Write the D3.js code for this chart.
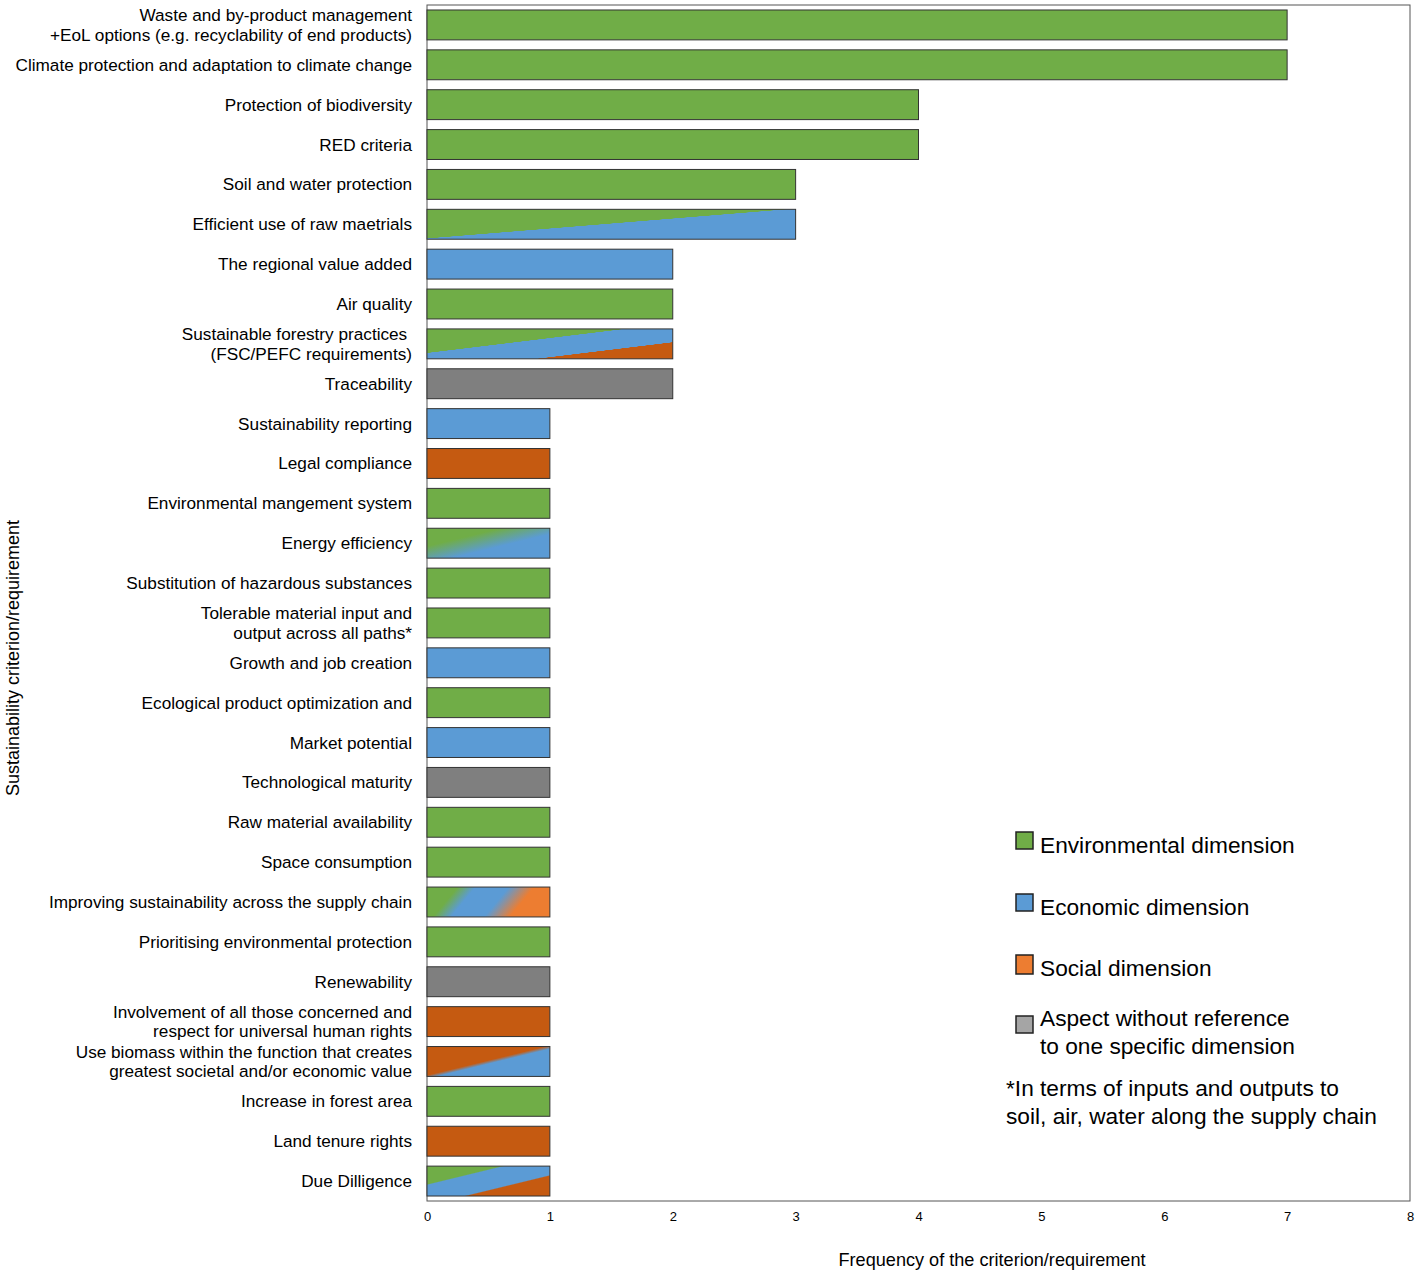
<!DOCTYPE html>
<html><head><meta charset="utf-8">
<script src="https://cdn.jsdelivr.net/npm/d3@7"></script>
<style>body{margin:0;background:#fff}svg{display:block}text{font-family:"Liberation Sans",Arial,sans-serif}</style>
</head><body><svg id="c" width="1418" height="1273"></svg>
<script>
const categories = [
  ["Waste and by-product management","+EoL options (e.g. recyclability of end products)"],
  ["Climate protection and adaptation to climate change"],
  ["Protection of biodiversity"],
  ["RED criteria"],
  ["Soil and water protection"],
  ["Efficient use of raw maetrials"],
  ["The regional value added"],
  ["Air quality"],
  ["Sustainable forestry practices ","(FSC/PEFC requirements)"],
  ["Traceability"],
  ["Sustainability reporting"],
  ["Legal compliance"],
  ["Environmental mangement system"],
  ["Energy efficiency"],
  ["Substitution of hazardous substances "],
  ["Tolerable material input and","output across all paths*"],
  ["Growth and job creation"],
  ["Ecological product optimization and"],
  ["Market potential"],
  ["Technological maturity"],
  ["Raw material availability"],
  ["Space consumption"],
  ["Improving sustainability across the supply chain"],
  ["Prioritising environmental protection"],
  ["Renewability"],
  ["Involvement of all those concerned and","respect  for universal human rights"],
  ["Use biomass within the function that creates","greatest societal and/or economic value"],
  ["Increase in forest area"],
  ["Land tenure rights"],
  ["Due Dilligence"]
];
const values = [7,7,4,4,3,3,2,2,2,2,1,1,1,1,1,1,1,1,1,1,1,1,1,1,1,1,1,1,1,1];
const dimensions = ["env","env","env","env","env","env-eco","eco","env","env-eco-soc","none",
  "eco","soc","env","env-eco-soft","env","env","eco","env","eco","none",
  "env","env","env-eco-soc-soft","env","none","soc","soc-eco","env","soc","env-eco-soc-dd"];
const xTicks = [0,1,2,3,4,5,6,7,8];
const legendItems = ["Environmental dimension","Economic dimension","Social dimension",["Aspect without reference","to one specific dimension"]];
const noteLines = ["*In terms of inputs and outputs to","soil, air, water along the supply chain"];

const C = {env:"#70AD47", eco:"#5B9BD5", soc:"#C55A11", socL:"#ED7D31", none:"#7F7F7F", noneL:"#A5A5A5"};
const svg = d3.select("#c");
const defs = svg.append("defs");
function grad(id, stops, x2=1, y2=1){
  const g = defs.append("linearGradient").attr("id",id).attr("x1",0).attr("y1",0).attr("x2",x2).attr("y2",y2);
  stops.forEach(s=>g.append("stop").attr("offset",s[0]).attr("stop-color",s[1]));
}
grad("env-eco",[[0,C.env],[0.485,C.env],[0.49,C.eco],[1,C.eco]]);
grad("env-eco-soc",[[0,C.env],[0.4,C.env],[0.405,C.eco],[0.72,C.eco],[0.725,C.soc],[1,C.soc]]);
grad("env-eco-soft",[[0,C.env],[0.3,C.env],[0.6,C.eco],[1,C.eco]]);
grad("env-eco-soc-soft",[[0,C.env],[0.24,C.env],[0.38,C.eco],[0.64,C.eco],[0.84,C.socL],[1,C.socL]],1,0.2);
grad("soc-eco",[[0,C.soc],[0.48,C.soc],[0.54,C.eco],[1,C.eco]]);
grad("env-eco-soc-dd",[[0,C.env],[0.3,C.env],[0.32,C.eco],[0.645,C.eco],[0.665,C.soc],[1,C.soc]]);
const fillFor = d => C[d] ? C[d] : `url(#${d})`;

const pLeft=427, pRight=1410, pTop=5, pBottom=1201;
const x = d3.scaleLinear().domain([0,8]).range([pLeft,pRight]);
const y = d3.scaleBand().domain(d3.range(categories.length)).range([pTop,pBottom]).paddingInner(0.25).paddingOuter(0.125);

svg.append("rect").attr("x",pLeft).attr("y",pTop).attr("width",pRight-pLeft).attr("height",pBottom-pTop)
  .attr("fill","none").attr("stroke","#555").attr("stroke-width",1);

svg.append("g").selectAll("rect").data(values).join("rect")
  .attr("x",x(0)).attr("y",(d,i)=>y(i)).attr("width",d=>x(d)-x(0)).attr("height",y.bandwidth())
  .attr("fill",(d,i)=>fillFor(dimensions[i])).attr("stroke","#333").attr("stroke-width",1);

const lab = svg.append("g").selectAll("text").data(categories).join("text")
  .attr("text-anchor","end").attr("font-size",17.2).attr("fill","#000")
  .attr("x",412).attr("y",(d,i)=>y(i)+y.bandwidth()/2);
lab.each(function(d){
  const t=d3.select(this); const n=d.length;
  d.forEach((s,k)=>t.append("tspan").attr("x",412).attr("dy", k===0 ? (n===1?"0.35em":(6-9.7)+"px") : "19.5px").text(s));
});

const xAxis = d3.axisBottom(x).tickValues(xTicks).tickSize(0).tickPadding(11).tickFormat(d3.format("d"));
const gx = svg.append("g").attr("transform",`translate(0,${pBottom})`).call(xAxis);
gx.select(".domain").remove();
gx.selectAll("text").attr("font-size",13).attr("fill","#000").style("font-family",'"Liberation Sans Narrow","Arial Narrow",sans-serif');

svg.append("text").attr("x",992).attr("y",1266).attr("text-anchor","middle").attr("font-size",18.5)
  .attr("textLength",307).attr("lengthAdjust","spacingAndGlyphs")
  .style("font-family",'"Liberation Sans Narrow","Arial Narrow",sans-serif').text("Frequency of the criterion/requirement");
svg.append("text").attr("transform","translate(19,658) rotate(-90)").attr("text-anchor","middle").attr("font-size",18)
  .text("Sustainability criterion/requirement");

const legendFill=[C.env,C.eco,C.socL,C.noneL];
const swY=[832,894,955,1016];
const lg=svg.append("g");
legendItems.forEach((it,i)=>{
  lg.append("rect").attr("x",1016).attr("y",swY[i]).attr("width",17).attr("height",i==2?19:17)
    .attr("fill",legendFill[i]).attr("stroke","#222").attr("stroke-width",1.5);
  const lines = Array.isArray(it)?it:[it];
  lines.forEach((s,k)=>lg.append("text").attr("x",1040).attr("y",(i==3?1026:swY[i]+21)+k*28).attr("font-size",22.7).text(s));
});
noteLines.forEach((s,k)=>svg.append("text").attr("x",1006).attr("y",1096+k*28).attr("font-size",22.7).text(s));
</script></body></html>
